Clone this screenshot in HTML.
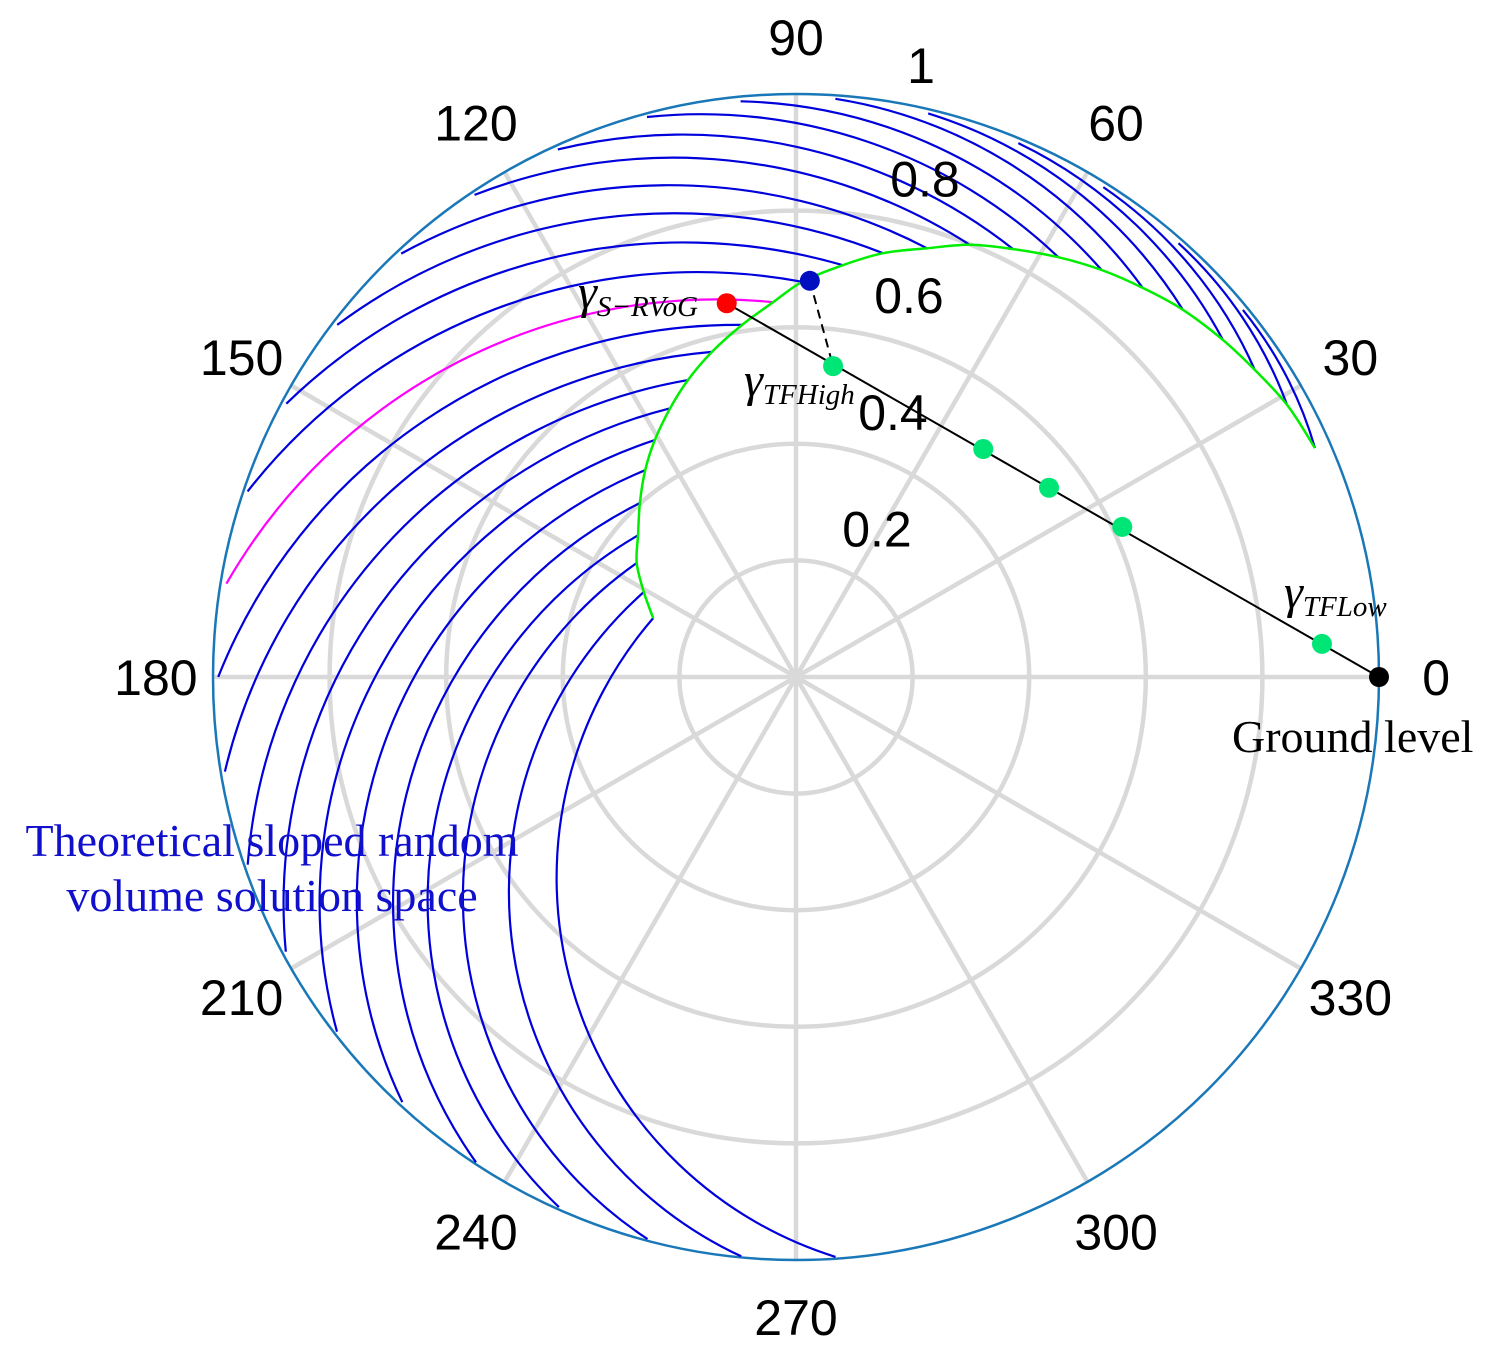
<!DOCTYPE html>
<html><head><meta charset="utf-8"><style>
html,body{margin:0;padding:0;background:#fff;}
svg{display:block;}
</style></head><body>
<svg id="chart" width="1499" height="1364" viewBox="0 0 1499 1364" xmlns="http://www.w3.org/2000/svg">
<g id="grid"></g>
<g id="curves"></g>
<g id="marks"></g>
<g id="labels"></g>
<g font-family="Liberation Serif, serif">
  <text x="578" y="308" font-size="48" font-style="italic">γ<tspan font-size="29" dy="8">S−RVoG</tspan></text>
  <text x="744" y="396" font-size="48" font-style="italic">γ<tspan font-size="29" dy="8">TFHigh</tspan></text>
  <text x="1284" y="608" font-size="48" font-style="italic">γ<tspan font-size="29" dy="8">TFLow</tspan></text>
  <text x="1232" y="752" font-size="46">Ground level</text>
  <text x="272" y="856" font-size="46" fill="#1010cc" text-anchor="middle">Theoretical sloped random</text>
  <text x="272" y="911" font-size="46" fill="#1010cc" text-anchor="middle">volume solution space</text>
</g>
</svg>
<script>
// ---- data ----
const rTicks = [0.2, 0.4, 0.6, 0.8, 1];
const rTickLabels = ["0.2", "0.4", "0.6", "0.8", "1"];
const angleTicks = [0, 30, 60, 90, 120, 150, 180, 210, 240, 270, 300, 330];
const angleTickLabels = ["0","30","60","90","120","150","180","210","240","270","300","330"];
// green locus (curve start points): magnitude, phase (deg)
const greenMag = [0.265,0.299,0.336,0.364,0.401,0.439,0.473,0.509,0.542,0.576,0.611,0.644,0.678,0.711,0.742,0.769,0.799,0.823,0.849,0.873,0.894,0.915,0.933,0.947,0.963,0.973];
const greenAng = [157.6,150.8,144.4,138.1,131.9,126.1,120.8,115.1,110,104.5,98.7,93.5,89.1,83.5,78.4,73,68.1,63.1,58,53.1,48.3,43.5,38.3,33.8,29,23.8];
// curve end points
const endMag = [0.997,0.998,0.997,0.996,0.997,0.994,0.995,0.994,0.994,0.993,0.991,0.99,0.993,0.992,0.992,0.993,0.994,0.993,0.994,0.992,0.994,0.993,0.992,0.992,0.992,0.992];
const endAng = [273.9,264.6,255.2,245.9,236.6,227.2,217.7,208.3,198.9,189.4,180,170.7,161.3,151.8,142.5,133,123.7,114.3,104.9,95.5,86.1,76.8,67.4,57.9,48.6,39.4];
// curve bulge (sagitta / chord)
const bulge = [0.27,0.27,0.265,0.25,0.23,0.215,0.2,0.185,0.172,0.162,0.155,0.148,0.14,0.135,0.13,0.125,0.12,0.115,0.11,0.105,0.1,0.09,0.08,0.07,0.06,0.05];
const highlightIndex = 11;
// markers
const groundPoint = [1.0, 0];
const srvogPoint = [0.652, 100.5];
const bluePoint = [0.68, 88];
const tfPointsMag = [0.904, 0.616, 0.542, 0.506, 0.537];
const tfPointsAng = [3.6, 24.7, 36.8, 50.6, 83.2];

// ---- axes ----
const CX = 796, CY = 677, R = 583;
const NS = 'http://www.w3.org/2000/svg';
function px(m, a){ const t = a*Math.PI/180; return [CX + m*R*Math.cos(t), CY - m*R*Math.sin(t)]; }
function mk(tag, attrs, parent){ const e = document.createElementNS(NS, tag); for (const k in attrs) e.setAttribute(k, attrs[k]); parent.appendChild(e); return e; }

const grid = document.getElementById('grid');
angleTicks.forEach(a => {
  const p = px(1, a);
  const l = mk('line', {x1:CX, y1:CY, x2:p[0], y2:p[1], stroke:'#d9d9d9', 'stroke-width':4.5}, grid);
  
  
});
rTicks.slice(0,4).forEach(r => {
  const c = mk('circle', {cx:CX, cy:CY, r:r*R, fill:'none', stroke:'#d9d9d9', 'stroke-width':4.5}, grid);
  
  
});
const outer = mk('circle', {cx:CX, cy:CY, r:R, fill:'none', stroke:'#1a78b8', 'stroke-width':2.5}, grid);



const labels = document.getElementById('labels');
angleTicks.forEach((a,i) => {
  const p = px(1.098, a);
  const t = mk('text', {x:p[0], y:p[1]+18, 'font-size':50, 'font-family':'Liberation Sans, sans-serif', 'text-anchor':'middle'}, labels);
  t.textContent = angleTickLabels[i];
  
  
});
rTicks.forEach((r,i) => {
  let x = CX + 65 + r*80, y = CY - r*R - 32;
  if (r === 1) { x -= 20; y += 3; }
  const t = mk('text', {x:x, y:y+18, 'font-size':50, 'font-family':'Liberation Sans, sans-serif', 'text-anchor':'middle'}, labels);
  t.textContent = rTickLabels[i];
  
  
});

// ---- curves ----
const curves = document.getElementById('curves');
function arcPath(S, E, b){
  const dx = E[0]-S[0], dy = E[1]-S[1], c = Math.hypot(dx,dy);
  let nx = -dy/c, ny = dx/c;
  const mx = (S[0]+E[0])/2, my = (S[1]+E[1])/2;
  if (nx*(mx-CX) + ny*(my-CY) < 0) { nx = -nx; ny = -ny; }
  const s = b*c, M = [mx+nx*s, my+ny*s];
  const ax=S[0], ay=S[1], bx=M[0], by=M[1], cx=E[0], cy=E[1];
  const d = 2*(ax*(by-cy)+bx*(cy-ay)+cx*(ay-by));
  const ux = ((ax*ax+ay*ay)*(by-cy)+(bx*bx+by*by)*(cy-ay)+(cx*cx+cy*cy)*(ay-by))/d;
  const uy = ((ax*ax+ay*ay)*(cx-bx)+(bx*bx+by*by)*(ax-cx)+(cx*cx+cy*cy)*(bx-ax))/d;
  const rr = Math.hypot(ax-ux, ay-uy);
  const cross = (bx-ax)*(cy-ay) - (by-ay)*(cx-ax);
  const sweep = cross > 0 ? 1 : 0;
  return `M${ax.toFixed(1)},${ay.toFixed(1)} A${rr.toFixed(1)},${rr.toFixed(1)} 0 0 ${sweep} ${cx.toFixed(1)},${cy.toFixed(1)}`;
}
greenMag.forEach((m,i) => {
  const S = px(m, greenAng[i]), E = px(endMag[i], endAng[i]);
  const p = mk('path', {d:arcPath(S,E,bulge[i]), fill:'none', stroke: i===highlightIndex ? '#ff00ff' : '#0000dd', 'stroke-width':2.2}, curves);
  
  
});
// green locus, smooth Catmull-Rom
const gp = greenMag.map((m,i) => px(m, greenAng[i]));
let gd = `M${gp[0][0].toFixed(1)},${gp[0][1].toFixed(1)}`;
for (let i = 0; i < gp.length-1; i++) {
  const p0 = gp[Math.max(0,i-1)], p1 = gp[i], p2 = gp[i+1], p3 = gp[Math.min(gp.length-1,i+2)];
  const c1 = [p1[0]+(p2[0]-p0[0])/6, p1[1]+(p2[1]-p0[1])/6];
  const c2 = [p2[0]-(p3[0]-p1[0])/6, p2[1]-(p3[1]-p1[1])/6];
  gd += ` C${c1[0].toFixed(1)},${c1[1].toFixed(1)} ${c2[0].toFixed(1)},${c2[1].toFixed(1)} ${p2[0].toFixed(1)},${p2[1].toFixed(1)}`;
}
const gl = mk('path', {d:gd, fill:'none', stroke:'#00ee00', 'stroke-width':2.5, 'stroke-linejoin':'round'}, curves);



// ---- markers ----
const marks = document.getElementById('marks');
const G = px(groundPoint[0], groundPoint[1]), RS = px(srvogPoint[0], srvogPoint[1]), B = px(bluePoint[0], bluePoint[1]);
const hi = px(tfPointsMag[4], tfPointsAng[4]);
const ln = mk('line', {x1:G[0], y1:G[1], x2:RS[0], y2:RS[1], stroke:'#000', 'stroke-width':2}, marks);


const dl = mk('line', {x1:B[0], y1:B[1], x2:hi[0], y2:hi[1], stroke:'#000', 'stroke-width':2, 'stroke-dasharray':'9,6'}, marks);


tfPointsMag.forEach((m,i) => {
  const p = px(m, tfPointsAng[i]);
  const c = mk('circle', {cx:p[0], cy:p[1], r:10, fill:'#00e676'}, marks);
  
  
});
const gc = mk('circle', {cx:G[0], cy:G[1], r:10, fill:'#000'}, marks);


const rc = mk('circle', {cx:RS[0], cy:RS[1], r:10, fill:'#ff0000'}, marks);


const bc = mk('circle', {cx:B[0], cy:B[1], r:10, fill:'#0010c0'}, marks);


</script>
</body></html>
